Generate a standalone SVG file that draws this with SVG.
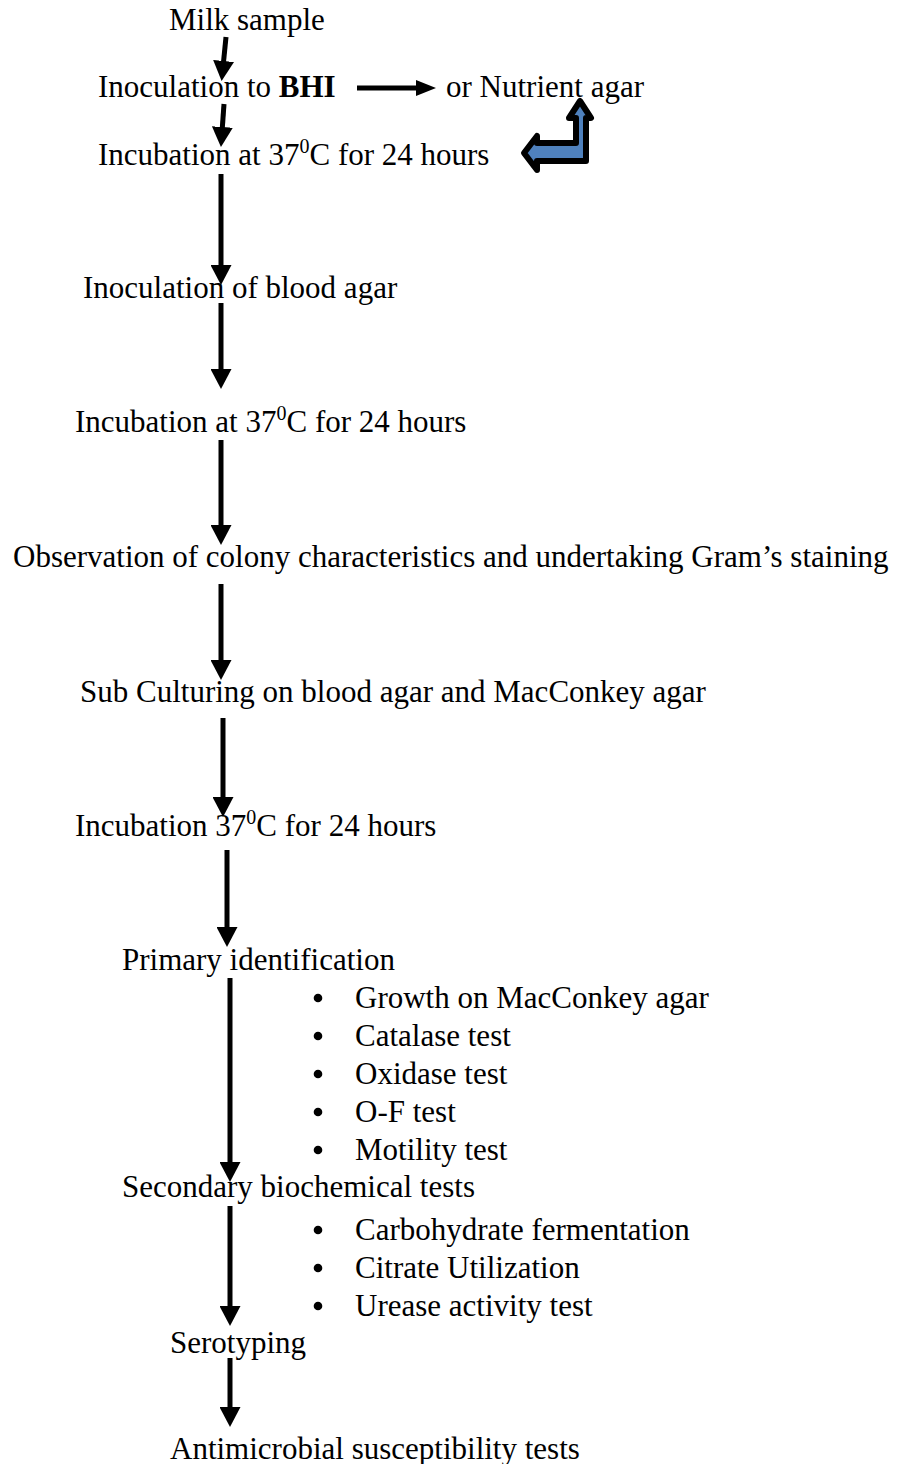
<svg xmlns="http://www.w3.org/2000/svg" width="906" height="1464" viewBox="0 0 906 1464">
<defs>
<style>
text{font-family:"Liberation Serif","Times New Roman",serif;font-size:31px;fill:#000}
.b{font-weight:bold}
.sup{font-size:20px}
.shaft{stroke:#000;stroke-width:5;fill:none}
.dot{fill:#000}
</style>
<marker id="ah" markerUnits="userSpaceOnUse" markerWidth="20" markerHeight="21" viewBox="0 0 20 21" refX="1" refY="10.5" orient="auto">
<path d="M0,0 L20,10.5 L0,21 z" fill="#000"/>
</marker>
<marker id="ahs" markerUnits="userSpaceOnUse" markerWidth="20" markerHeight="16" viewBox="0 0 20 16" refX="1" refY="8" orient="auto">
<path d="M0,0 L20,8 L0,16 z" fill="#000"/>
</marker>
</defs>
<rect width="906" height="1464" fill="#fff"/>

<g id="n-milk"><text x="169" y="30">Milk sample</text></g>
<g id="n-bhi"><text x="98" y="97">Inoculation to <tspan class="b">BHI</tspan></text></g>
<g id="n-nutrient"><text x="446" y="97">or Nutrient agar</text></g>
<g id="n-incub1"><text x="98" y="165">Incubation at 37<tspan class="sup" dy="-12">0</tspan><tspan dy="12">C for 24 hours</tspan></text></g>
<g id="n-blood"><text x="83" y="298">Inoculation of blood agar</text></g>
<g id="n-incub2"><text x="75" y="432">Incubation at 37<tspan class="sup" dy="-12">0</tspan><tspan dy="12">C for 24 hours</tspan></text></g>
<g id="n-observe"><text x="13" y="567">Observation of colony characteristics and undertaking Gram’s staining</text></g>
<g id="n-sub"><text x="80" y="702">Sub Culturing on blood agar and MacConkey agar</text></g>
<g id="n-incub3"><text x="75" y="836">Incubation 37<tspan class="sup" dy="-12">0</tspan><tspan dy="12">C for 24 hours</tspan></text></g>
<g id="n-primary">
<text x="122" y="970">Primary identification</text>
<circle class="dot" cx="318" cy="998" r="4.3"/><text x="355" y="1008">Growth on MacConkey agar</text>
<circle class="dot" cx="318" cy="1036" r="4.3"/><text x="355" y="1046">Catalase test</text>
<circle class="dot" cx="318" cy="1074" r="4.3"/><text x="355" y="1084">Oxidase test</text>
<circle class="dot" cx="318" cy="1112" r="4.3"/><text x="355" y="1122">O-F test</text>
<circle class="dot" cx="318" cy="1150" r="4.3"/><text x="355" y="1160">Motility test</text>
</g>
<g id="n-secondary">
<text x="122" y="1197">Secondary biochemical tests</text>
<circle class="dot" cx="318" cy="1230" r="4.3"/><text x="355" y="1240">Carbohydrate fermentation</text>
<circle class="dot" cx="318" cy="1268" r="4.3"/><text x="355" y="1278">Citrate Utilization</text>
<circle class="dot" cx="318" cy="1306" r="4.3"/><text x="355" y="1316">Urease activity test</text>
</g>
<g id="n-sero"><text x="170" y="1353">Serotyping</text></g>
<g id="n-amr"><text x="170" y="1459">Antimicrobial susceptibility tests</text></g>

<g id="connectors">
<line class="shaft" x1="226" y1="37" x2="223.5" y2="62" marker-end="url(#ah)"/>
<line class="shaft" x1="224" y1="104" x2="222.3" y2="128" marker-end="url(#ah)"/>
<line class="shaft" x1="221" y1="174" x2="221" y2="266" marker-end="url(#ah)"/>
<line class="shaft" x1="221" y1="303" x2="221" y2="370" marker-end="url(#ah)"/>
<line class="shaft" x1="221" y1="440" x2="221" y2="526" marker-end="url(#ah)"/>
<line class="shaft" x1="221" y1="584" x2="221" y2="661" marker-end="url(#ah)"/>
<line class="shaft" x1="223" y1="718" x2="223" y2="798" marker-end="url(#ah)"/>
<line class="shaft" x1="227" y1="850" x2="227" y2="928" marker-end="url(#ah)"/>
<line class="shaft" x1="230" y1="978" x2="230" y2="1163" marker-end="url(#ah)"/>
<line class="shaft" x1="230" y1="1206" x2="230" y2="1307" marker-end="url(#ah)"/>
<line class="shaft" x1="230" y1="1358" x2="230" y2="1408" marker-end="url(#ah)"/>
<line class="shaft" x1="357" y1="88" x2="417" y2="88" marker-end="url(#ahs)"/>
<path id="bent-arrow" d="M580,101 L591,118 L586,118 L586,161 L537,161 L537,170 L524,153 L537,136 L537,143 L576,143 L576,118 L569,118 Z" fill="#4F81BD" stroke="#000" stroke-width="6" stroke-linejoin="round"/>
</g>
</svg>
